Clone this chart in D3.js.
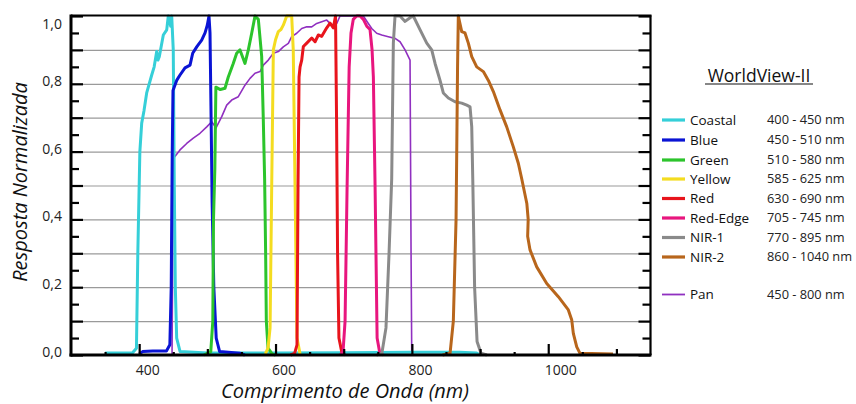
<!DOCTYPE html>
<html><head><meta charset="utf-8">
<script src="https://cdn.jsdelivr.net/npm/d3@7"></script>
<style>
body{margin:0;background:#fff}
svg{display:block;font-family:'Open Sans',sans-serif}
</style>
</head><body>
<svg id="chart" width="856" height="404"></svg>
<script>
// ---------- data ----------
const bandNames  = ["Coastal","Blue","Green","Yellow","Red","Red-Edge","NIR-1","NIR-2","Pan"];
const bandRanges = ["400 - 450 nm","450 - 510 nm","510 - 580 nm","585 - 625 nm","630 - 690 nm","705 - 745 nm","770 - 895 nm","860 - 1040 nm","450 - 800 nm"];
const bandColors = ["#35cfd8","#0a14d4","#2cc42c","#f4dc20","#e8141c","#e8167e","#8a8a8a","#b8661c","#9030c0"];
const yTickLabels = [0,0.2,0.4,0.6,0.8,1.0];
const xTickLabels = [400,600,800,1000];

const coastal = [[350,0.006],[390,0.006],[396,0.02],[398,0.3],[401,0.6],[403.7,0.684],[407,0.72],[411,0.773],[418.4,0.826],[422,0.85],[425.7,0.895],[427.5,0.87],[429.5,0.88],[435.4,0.944],[440.4,0.959],[442.7,1.0],[446.2,0.97],[447.7,1.0],[450,0.9],[451.5,0.5],[453,0.2],[455,0.05],[460,0.01],[500,0.006],[600,0.006],[700,0.007],[800,0.008],[870,0.008],[895,0.006],[900,0]];
const blue = [[400,0.003],[405,0.01],[420,0.012],[440,0.012],[445,0.03],[447,0.2],[448.5,0.6],[449.6,0.78],[455,0.81],[459.9,0.826],[467.2,0.847],[474.6,0.855],[478.5,0.89],[484.4,0.909],[491.7,0.929],[496.6,0.95],[499.9,0.973],[502.4,1.0],[503.9,0.95],[505.5,0.7],[507,0.45],[509.5,0.2],[513,0.05],[518,0.01],[548,0.005],[555,0]];
const green = [[495,0],[505,0.01],[508,0.1],[509,0.4],[511,0.55],[512.5,0.79],[519,0.783],[525.9,0.787],[530.7,0.82],[538,0.86],[543,0.89],[547.9,0.9],[555.2,0.86],[560.1,0.9],[565.1,0.95],[569.9,1.0],[574.8,0.99],[579.7,0.88],[582,0.7],[584,0.52],[585.5,0.3],[586.5,0.1],[589,0.02],[595,0.003],[600,0]];
const yellow = [[585,0.003],[589,0.02],[592,0.08],[594.4,0.5],[596.8,0.9],[600,0.93],[604.1,0.954],[608,0.96],[611.4,0.973],[616.4,1.0],[623.7,1.0],[626,0.9],[628.6,0.5],[631.5,0.05],[636,0.003]];
const red = [[622,0],[628,0.005],[631.5,0.03],[633,0.5],[634.5,0.82],[636,0.85],[638.4,0.87],[640.8,0.91],[645.8,0.92],[653.1,0.935],[658,0.924],[662.8,0.944],[667.8,0.94],[675.1,0.965],[680,0.979],[684.8,0.965],[688,1.0],[689.5,0.7],[691,0.3],[693,0.05],[697.5,0.005],[702,0]];
const redEdge = [[695,0],[699,0.01],[702,0.1],[705,0.5],[708,0.85],[710.7,0.95],[714,0.99],[719,1.0],[724,1.0],[728.8,0.99],[733.8,0.97],[738.6,0.96],[741.6,0.9],[743.5,0.82],[746,0.5],[749,0.05],[753,0.005],[758,0]];
const nir1 = [[748,0],[756,0.005],[762,0.08],[766.5,0.3],[770.4,0.52],[772.8,0.92],[775.3,1.0],[782.6,1.0],[790,0.984],[797.3,0.995],[802.1,1.0],[811.9,0.96],[821.8,0.92],[829.1,0.9],[834,0.86],[841.3,0.81],[846.1,0.773],[853.5,0.758],[863.3,0.747],[873.1,0.743],[880.5,0.737],[885.3,0.732],[887.8,0.673],[889.3,0.52],[892,0.2],[895.6,0.04],[901.4,0.005],[910,0]];
const nir2 = [[845,0],[856,0.005],[860.8,0.1],[864.8,0.4],[865.8,0.6],[867,0.85],[868.1,1.0],[873.1,0.954],[877.9,0.95],[882.8,0.92],[887.8,0.88],[895.1,0.85],[904.8,0.836],[912.2,0.81],[919.5,0.777],[929.3,0.723],[939.1,0.673],[948.8,0.614],[956.2,0.565],[961.1,0.52],[968.6,0.447],[970.6,0.40],[969.8,0.35],[973.3,0.31],[983.1,0.26],[997.8,0.211],[1014.8,0.172],[1029.5,0.133],[1034.5,0.103],[1036.8,0.064],[1041.8,0.024],[1046.6,0.005],[1095,0.003]];
const pan = [[448.2,0],[450.1,0.58],[459.9,0.605],[469.7,0.624],[479.4,0.64],[489.2,0.654],[499.1,0.673],[506.4,0.688],[512.7,0.67],[521.1,0.703],[528.4,0.737],[535.7,0.752],[545.4,0.762],[555.2,0.796],[562.6,0.816],[569.9,0.831],[577.3,0.836],[582.1,0.855],[589.4,0.87],[596.8,0.89],[604.1,0.895],[611.4,0.909],[618.8,0.919],[623.7,0.939],[631.1,0.949],[638.4,0.963],[645.8,0.968],[653.1,0.968],[660.4,0.978],[667.8,0.983],[675.1,0.988],[682.4,0.973],[689.8,0.978],[694.6,1.0],[728.8,1.0],[736.1,0.978],[741.1,0.963],[748.4,0.949],[755.8,0.944],[765.4,0.939],[775.3,0.934],[782.6,0.924],[790,0.9],[797.3,0.87],[798.8,0.3],[799.8,0]];

const bandData = [coastal, blue, green, yellow, red, redEdge, nir1, nir2, pan];

// ---------- scales ----------
const svg = d3.select("#chart");
const x = d3.scaleLinear().domain([300,1150]).range([71,650.5]);
const y = d3.scaleLinear().domain([0,1]).range([355,16]);
const L = 71, R = 650.5, T = 15.5, B = 355;

// grid lines
svg.append("g").attr("transform",`translate(${L},0)`)
  .call(d3.axisLeft(y).tickValues(d3.range(1,10).map(d=>d/10)).tickSize(-(R-L)).tickFormat(""))
  .call(g=>g.select(".domain").remove())
  .call(g=>g.selectAll("line").attr("stroke","#9a9a9a").attr("stroke-width",1.2));

// curves
const line = d3.line().x(d=>x(d[0])).y(d=>y(d[1]));
const order = [8,0,1,2,3,4,5,6,7];
order.forEach(i=>{
  svg.append("path").datum(bandData[i])
    .attr("fill","none")
    .attr("stroke",bandColors[i])
    .attr("stroke-width", i===8 ? 1.6 : 3)
    .attr("stroke-linejoin","round")
    .attr("d",line);
});

// ticks y (inward) left & right
const yMajor = d3.range(0,11).map(d=>d/10);
const yMinor = d3.range(0,10).map(d=>d/10+0.05);
function tickStyle(g){ g.select(".domain").remove(); g.selectAll("line").attr("stroke","#000").attr("stroke-width",2.2); }
svg.append("g").attr("transform",`translate(${L},0)`).call(d3.axisLeft(y).tickValues(yMajor).tickSize(-12).tickFormat("")).call(tickStyle);
svg.append("g").attr("transform",`translate(${L},0)`).call(d3.axisLeft(y).tickValues(yMinor).tickSize(-8).tickFormat("")).call(tickStyle);
svg.append("g").attr("transform",`translate(${R},0)`).call(d3.axisRight(y).tickValues(yMajor).tickSize(-12).tickFormat("")).call(tickStyle);
svg.append("g").attr("transform",`translate(${R},0)`).call(d3.axisRight(y).tickValues(yMinor).tickSize(-8).tickFormat("")).call(tickStyle);

// ticks x (inward)
svg.append("g").attr("transform",`translate(0,${B})`).call(d3.axisBottom(x).tickValues([400,600,800,1000]).tickSize(-11).tickFormat("")).call(tickStyle);
svg.append("g").attr("transform",`translate(0,${B})`).call(d3.axisBottom(x).tickValues([500,700,900,1100]).tickSize(-6).tickFormat("")).call(tickStyle);
svg.append("g").attr("transform",`translate(0,${B})`).call(d3.axisBottom(x).tickValues([350,450,550,650,750,850,950,1050]).tickSize(-3).tickFormat("")).call(tickStyle);

// frame
svg.append("line").attr("x1",L).attr("x2",R+1).attr("y1",T).attr("y2",T).attr("stroke","#000").attr("stroke-width",2.2);
svg.append("line").attr("x1",R).attr("x2",R).attr("y1",T).attr("y2",B).attr("stroke","#000").attr("stroke-width",2.2);
svg.append("line").attr("x1",L).attr("x2",L).attr("y1",T-1).attr("y2",B+1.5).attr("stroke","#000").attr("stroke-width",3);
svg.append("line").attr("x1",L-1.5).attr("x2",R+1).attr("y1",B).attr("y2",B).attr("stroke","#000").attr("stroke-width",3);

// tick labels
svg.append("g").attr("transform",`translate(${L},0)`)
  .call(d3.axisLeft(y).tickValues(yTickLabels).tickSize(0).tickPadding(9).tickFormat(d=>d3.format(".1f")(d).replace(".",",")))
  .call(g=>g.select(".domain").remove())
  .call(g=>g.selectAll("text").attr("y",d=>d===1?8:-3).attr("font-size",14).attr("fill","#222").attr("font-family","'Open Sans',sans-serif"));
svg.append("g").attr("transform",`translate(0,${B})`)
  .call(d3.axisBottom(x).tickValues(xTickLabels).tickSize(0).tickPadding(10).tickFormat(d3.format("d")))
  .call(g=>g.select(".domain").remove())
  .call(g=>g.selectAll("text").attr("text-anchor","start").attr("x",-4).attr("font-size",14).attr("fill","#222").attr("font-family","'Open Sans',sans-serif"));

// axis titles
svg.append("text").attr("transform","translate(27,182) rotate(-90)")
  .attr("text-anchor","middle").attr("font-style","italic").attr("font-size",20).attr("fill","#111")
  .text("Resposta Normalizada");
svg.append("text").attr("x",345).attr("y",398)
  .attr("text-anchor","middle").attr("font-style","italic").attr("font-size",20).attr("fill","#111")
  .text("Comprimento de Onda (nm)");

// legend
const lg = svg.append("g");
lg.append("text").attr("x",759).attr("y",81.5).attr("text-anchor","middle").attr("font-size",17.5).attr("fill","#111").text("WorldView-II");
lg.append("line").attr("x1",705).attr("x2",813).attr("y1",84).attr("y2",84).attr("stroke","#111").attr("stroke-width",1.2);
const rowY = [120,140,160,179,198.5,218,237.5,257,294.5];
bandNames.forEach((n,i)=>{
  const g = lg.append("g").attr("transform",`translate(0,${rowY[i]})`);
  g.append("line").attr("x1",662).attr("x2",685).attr("stroke",bandColors[i]).attr("stroke-width",i===8?1.8:3.2);
  g.append("text").attr("x",690).attr("dy","0.35em").attr("font-size",13.5).attr("fill","#111").text(n);
  g.append("text").attr("x",767).attr("dy","0.35em").attr("font-size",12.8).attr("fill","#222").text(bandRanges[i]);
});
</script>
</body></html>
